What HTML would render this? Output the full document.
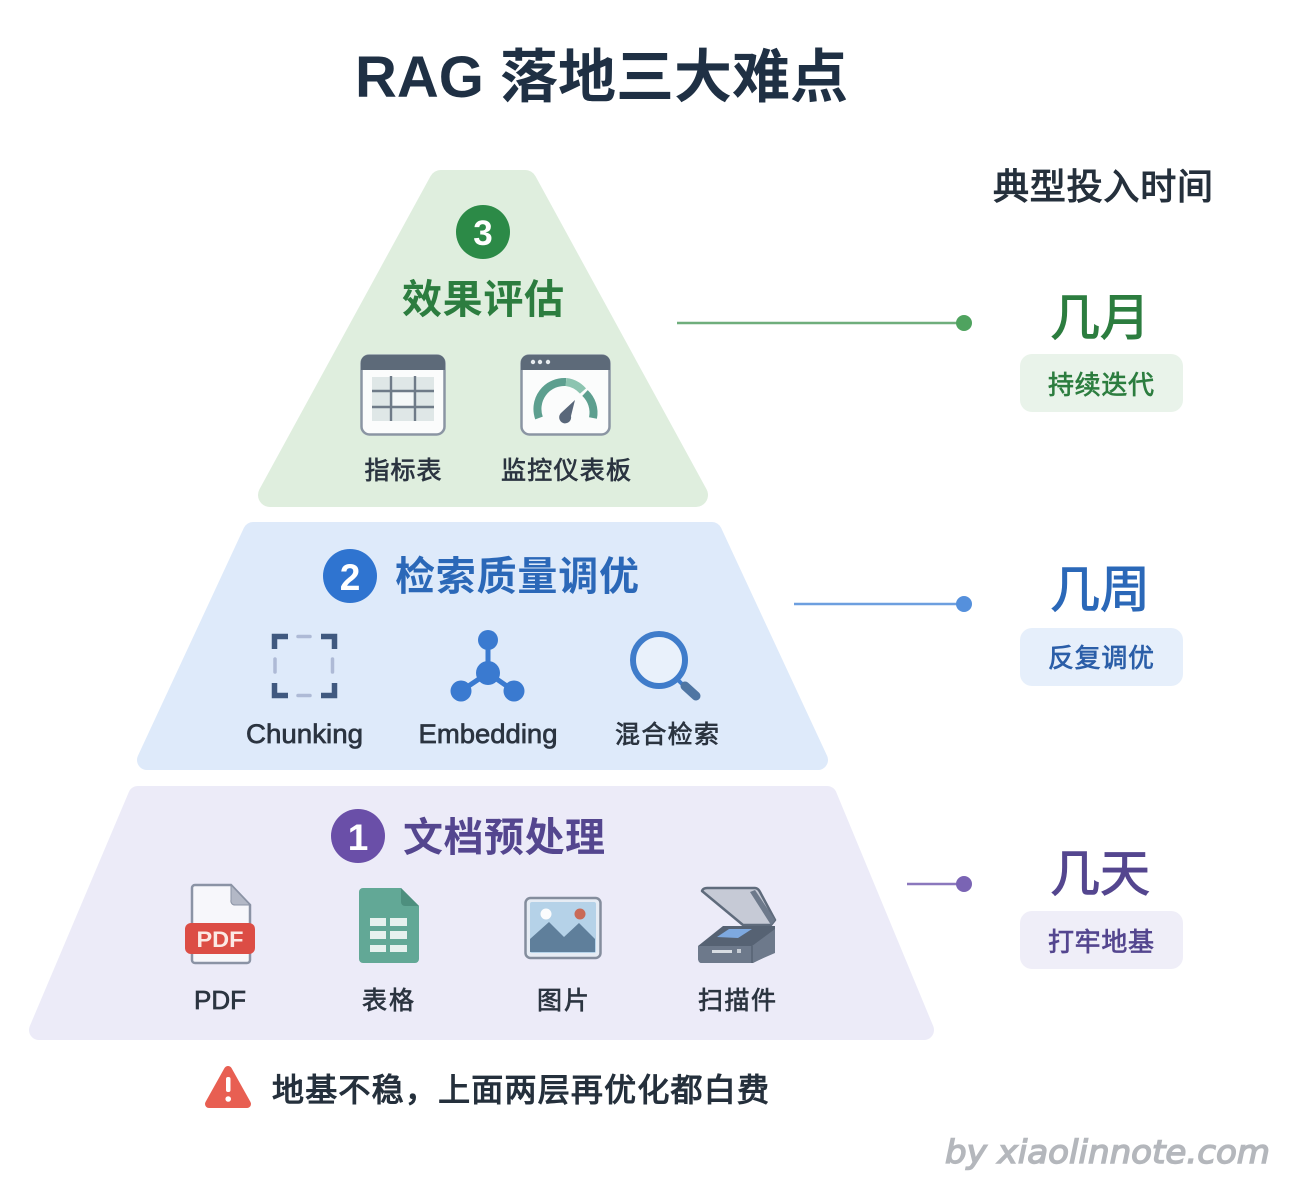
<!DOCTYPE html>
<html><head><meta charset="utf-8"><style>
html,body{margin:0;padding:0;background:#fff}
svg{display:block}
text{font-family:"Liberation Sans","Noto Sans CJK SC",sans-serif}
.m{stroke-width:1.1px;paint-order:stroke}
.l{stroke-width:.7px;paint-order:stroke}
</style></head><body>
<svg width="1312" height="1199" viewBox="0 0 1312 1199" xmlns="http://www.w3.org/2000/svg">
<rect width="1312" height="1199" fill="#fff"/>
<text x="355" y="97" font-size="58" font-weight="700" fill="#1f3044" textLength="493" lengthAdjust="spacingAndGlyphs">RAG 落地三大难点</text>
<text class="m" x="1103" y="199" font-size="36" fill="#25303c" stroke="#25303c" text-anchor="middle" textLength="220">典型投入时间</text>

<!-- tiers -->
<g stroke-linejoin="round">
<polygon points="441,182 525,182 696,495 270,495" fill="#dfeede" stroke="#dfeede" stroke-width="24"/>
<polygon points="253,532 712,532 818,760 147,760" fill="#deeafa" stroke="#deeafa" stroke-width="20"/>
<polygon points="138,796 827,796 924,1030 39,1030" fill="#ecebf8" stroke="#ecebf8" stroke-width="20"/>
</g>

<!-- tier 3 -->
<circle cx="483" cy="232" r="27" fill="#2c8a47"/>
<text x="483" y="245" font-size="35" font-weight="700" fill="#fff" text-anchor="middle">3</text>
<text x="483" y="313" font-size="40" font-weight="700" fill="#2c7d3f" text-anchor="middle" textLength="162">效果评估</text>
<!-- table -->
<rect x="361.500" y="355.500" width="83" height="79" rx="8" fill="#fbfcfc" stroke="#8b95a3" stroke-width="2.500"/>
<path d="M361 370V362a7 7 0 0 1 7-7h70a7 7 0 0 1 7 7v8z" fill="#5d6a79"/>
<rect x="372" y="377" width="62" height="44" fill="#dfe7e7"/>
<rect x="393" y="392" width="20" height="14" fill="#f5f8f8"/>
<path d="M391 376v45M415 376v45M372 391h62M372 407h62" stroke="#6f7b88" stroke-width="2.400" fill="none"/>
<!-- gauge -->
<rect x="521.500" y="355.500" width="88" height="79" rx="8" fill="#fbfcfc" stroke="#8b95a3" stroke-width="2.500"/>
<path d="M521 370V362a7 7 0 0 1 7-7h75a7 7 0 0 1 7 7v8z" fill="#5d6a79"/>
<circle cx="533" cy="362" r="2.200" fill="#e8ecef"/><circle cx="540" cy="362" r="2.200" fill="#e8ecef"/><circle cx="548" cy="362" r="2.200" fill="#e8ecef"/>
<path d="M539 418A27 27 0 0 1 566 382" fill="none" stroke="#5d9f8f" stroke-width="8"/>
<path d="M566 382A27 27 0 0 1 583 391" fill="none" stroke="#8cc4b0" stroke-width="8"/>
<path d="M585 393A27 27 0 0 1 593 418" fill="none" stroke="#5d9f8f" stroke-width="8"/>
<path d="M575 400L571 416a6 6 0 1 1-10-3z" fill="#59677a"/>
<text class="l" stroke="#2b3440" x="403" y="479" font-size="25" fill="#2b3440" text-anchor="middle" textLength="77">指标表</text>
<text class="l" stroke="#2b3440" x="566" y="479" font-size="25" fill="#2b3440" text-anchor="middle" textLength="130">监控仪表板</text>

<!-- tier 2 -->
<circle cx="350" cy="576" r="27" fill="#2f74d0"/>
<text x="350" y="590" font-size="37" font-weight="700" fill="#fff" text-anchor="middle">2</text>
<text x="395" y="590" font-size="40" font-weight="700" fill="#2b68b8" textLength="244">检索质量调优</text>
<!-- chunking -->
<path d="M274.500 649V636.500H288M334.500 649V636.500H321M274.500 683V695.500H288M334.500 683V695.500H321" fill="none" stroke="#40597f" stroke-width="5.500"/>
<path d="M298 636.500H310M298 695.500H310M275 659V672M332.500 659V672" fill="none" stroke="#aebad6" stroke-width="3.500" stroke-linecap="round"/>
<!-- embedding -->
<path d="M488 640V673M461 691L488 673L514 691" fill="none" stroke="#3a7ad0" stroke-width="5"/>
<circle cx="488" cy="640" r="10" fill="#3a7ad0"/><circle cx="488" cy="673" r="12" fill="#3a7ad0"/>
<circle cx="461" cy="691" r="10.500" fill="#3a7ad0"/><circle cx="514" cy="691" r="10.500" fill="#3a7ad0"/>
<!-- magnifier -->
<circle cx="659" cy="660" r="26" fill="#e9f1fb" stroke="#3f7cca" stroke-width="6"/>
<path d="M678 680L684 686" stroke="#3f7cca" stroke-width="4"/>
<path d="M685 686L696 696" stroke="#4f76a3" stroke-width="9" stroke-linecap="round"/>
<text class="l" stroke="#2b3440" x="304.500" y="743" font-size="27" fill="#2b3440" text-anchor="middle" textLength="117" lengthAdjust="spacingAndGlyphs">Chunking</text>
<text class="l" stroke="#2b3440" x="488" y="743" font-size="27" fill="#2b3440" text-anchor="middle" textLength="139" lengthAdjust="spacingAndGlyphs">Embedding</text>
<text class="l" stroke="#2b3440" x="667" y="743" font-size="25" fill="#2b3440" text-anchor="middle" textLength="104">混合检索</text>

<!-- tier 1 -->
<circle cx="358" cy="836" r="27" fill="#6a4fa8"/>
<text x="358" y="850" font-size="37" font-weight="700" fill="#fff" text-anchor="middle">1</text>
<text x="403" y="851" font-size="40" font-weight="700" fill="#54468f" textLength="202">文档预处理</text>
<!-- pdf -->
<path d="M195 885H231L250 905V960a3 3 0 0 1-3 3H195a3 3 0 0 1-3-3V888a3 3 0 0 1 3-3z" fill="#f7f7fb" stroke="#8b93a5" stroke-width="2.500"/>
<path d="M231 885V900a4 4 0 0 0 4 5H250z" fill="#b3b8c6" stroke="#8b93a5" stroke-width="1"/>
<rect x="185" y="923" width="70" height="31" rx="6" fill="#dc4d45"/>
<text x="220" y="947" font-size="22" font-weight="700" fill="#fbe9e5" text-anchor="middle" textLength="47" lengthAdjust="spacingAndGlyphs">PDF</text>
<!-- sheet -->
<path d="M363 888H401L419 906V959a4 4 0 0 1-4 4H363a4 4 0 0 1-4-4V892a4 4 0 0 1 4-4z" fill="#62a896"/>
<path d="M401 888V902a4 4 0 0 0 4 4H419z" fill="#4d8f7e"/>
<g fill="#e6f1ee"><rect x="370" y="918" width="16" height="8"/><rect x="390" y="918" width="17" height="8"/><rect x="370" y="931" width="16" height="8"/><rect x="390" y="931" width="17" height="8"/><rect x="370" y="945" width="16" height="7"/><rect x="390" y="945" width="17" height="7"/></g>
<!-- image -->
<rect x="525.500" y="898" width="75" height="60" rx="5" fill="#e6ecf4" stroke="#848d9d" stroke-width="2.500"/>
<rect x="530" y="902" width="66" height="51" rx="2" fill="#b5d2e8"/>
<circle cx="546" cy="914" r="5.500" fill="#fbfcfd"/><circle cx="580" cy="914" r="5.500" fill="#c96a57"/>
<path d="M530 939L549 922L564 937L579 923L595 939V952H530z" fill="#5f7f9b"/>
<!-- scanner -->
<path d="M702 891Q703 888 707 888H755Q758 888 760 892L775 920L771 925L743 925Z" fill="#c6cad6" stroke="#5f6b7c" stroke-width="2.500" stroke-linejoin="round"/>
<path d="M755 890L775 920L771 925L750 892Z" fill="#6d798b"/>
<path d="M698 946L723 926H775V952L753 963H702Q698 963 698 958Z" fill="#566273"/>
<path d="M698 946H752L775 929V953L752 963H702Q698 963 698 958Z" fill="#6d798b"/>
<path d="M752 946V963" stroke="#566273" stroke-width="1.500"/>
<path d="M717 937L729 929H752L738 938Z" fill="#7ea9e0"/>
<rect x="712" y="950" width="20" height="3" fill="#d8dde3"/>
<rect x="737" y="949" width="4" height="4" fill="#c6ccd4"/>
<text class="l" stroke="#2b3440" x="220" y="1009" font-size="26" fill="#2b3440" text-anchor="middle" textLength="52">PDF</text>
<text class="l" stroke="#2b3440" x="388" y="1009" font-size="25" fill="#2b3440" text-anchor="middle" textLength="52">表格</text>
<text class="l" stroke="#2b3440" x="563" y="1009" font-size="25" fill="#2b3440" text-anchor="middle" textLength="52">图片</text>
<text class="l" stroke="#2b3440" x="737" y="1009" font-size="25" fill="#2b3440" text-anchor="middle" textLength="78">扫描件</text>

<!-- warning -->
<path d="M228 1070L247 1104H209Z" fill="#e85f52" stroke="#e85f52" stroke-width="8" stroke-linejoin="round"/>
<rect x="226" y="1077" width="4.500" height="15" rx="2" fill="#fff"/><circle cx="228.200" cy="1099" r="2.800" fill="#fff"/>
<text class="m" stroke="#25303c" x="272" y="1101" font-size="32" fill="#25303c" textLength="497">地基不稳，上面两层再优化都白费</text>

<!-- connectors -->
<line x1="677" y1="323" x2="964" y2="323" stroke="#6fae7c" stroke-width="2.500"/>
<circle cx="964" cy="323" r="8" fill="#4fa35f"/>
<line x1="794" y1="604" x2="964" y2="604" stroke="#6d9fdf" stroke-width="2.500"/>
<circle cx="964" cy="604" r="8" fill="#5590dc"/>
<line x1="907" y1="884" x2="964" y2="884" stroke="#8b78bd" stroke-width="2.500"/>
<circle cx="964" cy="884" r="8" fill="#7a64b4"/>

<!-- right -->
<text class="m" stroke="#2c7d3f" x="1100" y="335" font-size="50" fill="#2c7d3f" text-anchor="middle">几月</text>
<rect x="1020" y="354" width="163" height="58" rx="12" fill="#e9f3ea"/>
<text class="l" stroke="#2c7d3f" x="1101" y="394" font-size="26" fill="#2c7d3f" text-anchor="middle" textLength="106">持续迭代</text>
<text class="m" stroke="#2b68b8" x="1100" y="607" font-size="50" fill="#2b68b8" text-anchor="middle">几周</text>
<rect x="1020" y="628" width="163" height="58" rx="12" fill="#e6effb"/>
<text class="l" stroke="#2b5ea8" x="1101" y="667" font-size="26" fill="#2b5ea8" text-anchor="middle" textLength="106">反复调优</text>
<text class="m" stroke="#54468f" x="1100" y="891" font-size="50" fill="#54468f" text-anchor="middle">几天</text>
<rect x="1020" y="911" width="163" height="58" rx="12" fill="#efeef8"/>
<text class="l" stroke="#54468f" x="1101" y="951" font-size="26" fill="#54468f" text-anchor="middle" textLength="106">打牢地基</text>

<!-- watermark -->
<text stroke="#b4b7bc" stroke-width="1.400" x="1270" y="1163" font-size="32" font-style="italic" fill="#b4b7bc" text-anchor="end" textLength="325" lengthAdjust="spacingAndGlyphs" style="font-family:'DejaVu Sans','Liberation Sans',sans-serif;paint-order:stroke">by xiaolinnote.com</text>
</svg>
</body></html>
